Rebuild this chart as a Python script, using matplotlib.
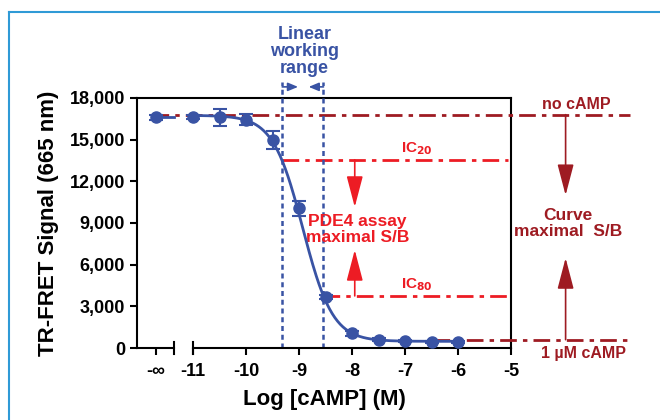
import numpy as np
import matplotlib
matplotlib.use('Agg')
import matplotlib.pyplot as plt
from matplotlib.lines import Line2D

plt.rcParams['font.family'] = ['Liberation Sans', 'DejaVu Sans']
plt.rcParams['font.weight'] = 'bold'
plt.rcParams['axes.labelweight'] = 'bold'

# measured points (log M); -inf is drawn at a stand-in position left of the break
log_conc = [-11.0, -10.5, -10.0, -9.5, -9.0, -8.5, -8.0, -7.5, -7.0, -6.5, -6.0]
signal = [16650, 16600, 16450, 14950, 10050, 3650, 1050, 600, 500, 450, 450]
err = [150, 600, 400, 650, 550, 150, 150, 100, 80, 80, 80]
zero_x = -11.7          # where "-inf" sits on the axis
zero_signal = 16600
zero_err = 150

# fitted 4PL parameters
top = 16750
bottom = 480
log_ic50 = -8.93
hill = 1.54

ic20_x, ic80_x = -9.32, -8.54
ic20_y, ic80_y = 13550, 3750
no_camp_y = 16800
max_camp_y = 600

xticks = [zero_x, -11, -10, -9, -8, -7, -6, -5]
xticklabels = ['-∞', '-11', '-10', '-9', '-8', '-7', '-6', '-5']
yticks = [0, 3000, 6000, 9000, 12000, 15000, 18000]

BLUE = '#3953a4'
RED = '#ed1c24'
DRED = '#9e1b22'

fig = plt.figure(figsize=(6.6, 4.2), dpi=100)
ax = fig.add_axes([0.2076, 0.1714, 0.5667, 0.5953])
ax.set_xlim(-12.06, -5)
ax.set_ylim(0, 18000)

# outer frame of the figure panel
fig.add_artist(Line2D([0.0136, 0.0136], [0, 0.971], color='#2f9ad6', lw=1.5))
fig.add_artist(Line2D([0.0136, 1.0], [0.971, 0.971], color='#2f9ad6', lw=1.5))

# broken x axis
ax.spines['bottom'].set_visible(False)
for sp in ['left', 'top', 'right']:
    ax.spines[sp].set_linewidth(1.5)
ax.plot([-12.06, -11.36], [0, 0], color='black', lw=1.5, clip_on=False, zorder=5)
ax.plot([-11.0, -5.0], [0, 0], color='black', lw=1.5, clip_on=False, zorder=5)
for bx in [-11.36, -11.0]:
    ax.plot([bx, bx], [-400, 400], color='black', lw=1.5, clip_on=False, zorder=5)
ax.set_xticks(xticks)
ax.set_xticklabels(xticklabels)
ax.tick_params(axis='x', length=5, width=1.5, labelsize=13, pad=6)
ax.set_yticks(yticks)
ax.set_yticklabels([f'{v:,}' for v in yticks])
ax.tick_params(axis='y', length=5, width=1.5, labelsize=13)

# fitted curve
xs = np.linspace(-11.0, -6.0, 300)
ys = bottom + (top - bottom) / (1 + 10 ** ((xs - log_ic50) * hill))
ax.plot(xs, ys, color=BLUE, lw=2, zorder=4)
ax.plot([zero_x, -11.36], [zero_signal, zero_signal], color=BLUE, lw=2, zorder=4)

ax.errorbar(log_conc, signal, yerr=err, fmt='o', color=BLUE, ms=8,
            capsize=5, elinewidth=1.5, capthick=1.5, zorder=6)
ax.errorbar([zero_x], [zero_signal], yerr=[zero_err], fmt='o', color=BLUE, ms=8,
            capsize=5, elinewidth=1.5, capthick=1.5, zorder=6)

# reference lines
dd = (0, (6, 2.2, 1.6, 2.2))
ax.plot([-11.78, -2.76], [no_camp_y, no_camp_y], color=DRED, lw=2, ls=dd, clip_on=False, zorder=3)
ax.plot([-6.48, -2.76], [max_camp_y, max_camp_y], color=DRED, lw=2, ls=dd, clip_on=False, zorder=3)
ax.plot([ic20_x, -5.05], [ic20_y, ic20_y], color=RED, lw=2, ls=dd, zorder=3)
ax.plot([ic80_x, -5.05], [ic80_y, ic80_y], color=RED, lw=2, ls=dd, zorder=3)

# linear working range
for vx in [ic20_x, ic80_x]:
    ax.plot([vx, vx], [0, 19150], color=BLUE, lw=1.8, ls=(0, (2, 1.5)), clip_on=False, zorder=3)
ax.annotate('', xy=(-9.02, 18800), xytext=(ic20_x, 18800), annotation_clip=False,
            arrowprops=dict(arrowstyle='-|>,head_length=0.6,head_width=0.25', color=BLUE, lw=1.2, shrinkA=0, shrinkB=0))
ax.annotate('', xy=(-8.82, 18800), xytext=(ic80_x, 18800), annotation_clip=False,
            arrowprops=dict(arrowstyle='-|>,head_length=0.6,head_width=0.25', color=BLUE, lw=1.2, shrinkA=0, shrinkB=0))
ax.text(-8.9, 21350, 'Linear\nworking\nrange', color=BLUE, fontsize=13, ha='center', va='center',
        linespacing=1.0, clip_on=False)

# PDE4 assay window arrows
big = dict(arrowstyle='-|>,head_length=1.6,head_width=0.42', lw=1.2, shrinkA=0, shrinkB=0, mutation_scale=12)
ax.annotate('', xy=(-7.95, 10150), xytext=(-7.95, ic20_y), arrowprops=dict(color=RED, **big))
ax.annotate('', xy=(-7.95, 7060), xytext=(-7.95, ic80_y), arrowprops=dict(color=RED, **big))
ax.text(-7.9, 8550, 'PDE4 assay\nmaximal S/B', color=RED, fontsize=12.5, ha='center', va='center', linespacing=1.1)
ax.text(-6.77, 14350, 'IC$_{20}$', color=RED, fontsize=11, ha='center', va='center')
ax.text(-6.77, 4550, 'IC$_{80}$', color=RED, fontsize=11, ha='center', va='center')

# curve window arrows
ax.annotate('', xy=(-3.97, 11000), xytext=(-3.97, no_camp_y), annotation_clip=False,
            arrowprops=dict(color=DRED, **big))
ax.annotate('', xy=(-3.97, 6480), xytext=(-3.97, max_camp_y), annotation_clip=False,
            arrowprops=dict(color=DRED, **big))
ax.text(-3.92, 8950, 'Curve\nmaximal  S/B', color=DRED, fontsize=12.5, ha='center', va='center',
        linespacing=1.1, clip_on=False)
ax.text(-3.77, 17550, 'no cAMP', color=DRED, fontsize=11.5, ha='center', va='center', clip_on=False)
ax.text(-3.64, -400, '1 µM cAMP', color=DRED, fontsize=11.5, ha='center', va='center', clip_on=False)

ax.set_ylabel('TR-FRET Signal (665 nm)', fontsize=16, labelpad=8)
ax.set_xlabel('Log [cAMP] (M)', fontsize=16, labelpad=6)

fig.savefig('out.png', dpi=100)
